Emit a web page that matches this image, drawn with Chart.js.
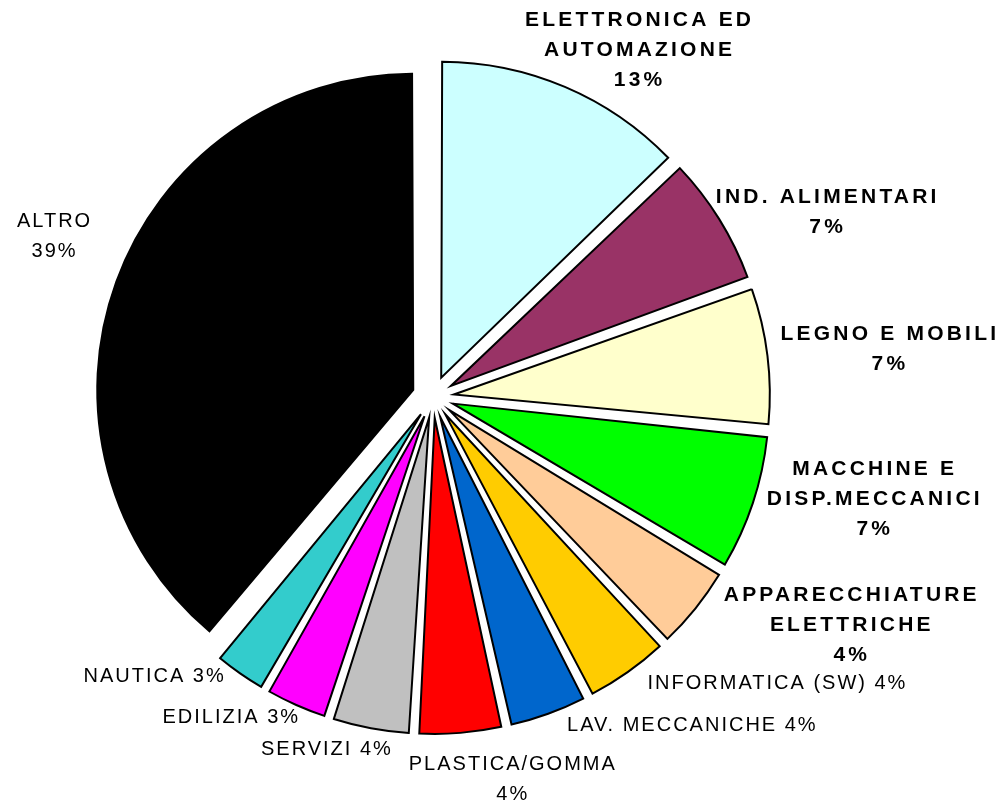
<!DOCTYPE html>
<html>
<head>
<meta charset="utf-8">
<script src="https://cdn.jsdelivr.net/npm/chart.js@4/dist/chart.umd.min.js"></script>
<style>
  html, body { margin: 0; padding: 0; background: #fff; }
  #pie { display: block; }
</style>
</head>
<body>
<canvas id="pie" width="1001" height="802"></canvas>
<script>
// Sectors (clockwise from 12 o'clock) and their share in percent
const categories = [
    ['ELETTRONICA ED', 'AUTOMAZIONE'],
    ['IND. ALIMENTARI'],
    ['LEGNO E MOBILI'],
    ['MACCHINE E', 'DISP.MECCANICI'],
    ['APPARECCHIATURE', 'ELETTRICHE'],
    'INFORMATICA (SW)',
    'LAV. MECCANICHE',
    ['PLASTICA/GOMMA'],
    'SERVIZI',
    'EDILIZIA',
    'NAUTICA',
    ['ALTRO']
];
const shares = [12.8, 6.7, 7.1, 7.0, 4.4, 4.4, 4.1, 4.4, 4.1, 3.3, 2.8, 38.9];

const sliceColors = [
    '#CCFFFF', '#993366', '#FFFFCC', '#00FF00', '#FFCC99', '#FFCC00',
    '#0066CC', '#FF0000', '#C0C0C0', '#FF00FF', '#33CCCC', '#000000'
];

// label styling: bold or not, and small nudges off the automatic spot
const boldLabel = [true, true, true, true, true, false, false, false, false, false, false, false];
const labelNudge = [
    [26, 14], [5, 14], [4, -2], [10, -21], [49, -18], [69, -9],
    [98, -12], [43, 7], [-30, -3], [-33, -10], [-39, -17], [-17, -32]
];

const EXPLODE = 84; // chart.js divides this by 4 -> ~21px

// chart.js grows the radius of exploded arcs, undo that so all slices are equal
const equalRadius = {
    id: 'equalRadius',
    afterDatasetUpdate(chart, args) {
        const shift = (chart.data.datasets[args.index].offset || 0) / 4;
        args.meta.data.forEach(arc => {
            const fix = 1 - Math.sin(Math.min(Math.PI, arc.circumference));
            arc.outerRadius -= shift * fix;
        });
    }
};

const sliceLabels = {
    id: 'sliceLabels',
    afterDatasetsDraw(chart) {
        const ctx = chart.ctx;
        const meta = chart.getDatasetMeta(0);
        const radius = meta.controller.outerRadius;
        const shift = EXPLODE / 4;
        const lineH = 30;

        meta.data.forEach((arc, i) => {
            const bold = boldLabel[i];
            const pct = Math.round(shares[i]) + '%';
            const name = categories[i];
            const lines = Array.isArray(name) ? name.concat([pct]) : [name + ' ' + pct];

            ctx.save();
            ctx.font = bold ? 'bold 21px "Liberation Sans", Arial, sans-serif'
                            : '20px "Liberation Sans", Arial, sans-serif';
            ctx.letterSpacing = bold ? '3.2px' : '2px';
            ctx.fillStyle = '#000';
            ctx.textAlign = 'center';
            ctx.textBaseline = 'middle';

            const w = Math.max(...lines.map(l => ctx.measureText(l).width));
            const h = lines.length * lineH;
            const mid = (arc.startAngle + arc.endAngle) / 2;
            const dx = Math.cos(mid), dy = Math.sin(mid);
            const r0 = radius + shift + 10;
            const cx = arc.x + dx * r0 + dx * w / 2 + labelNudge[i][0];
            const cy = arc.y + dy * r0 + dy * h / 2 + labelNudge[i][1];

            lines.forEach((l, j) => {
                ctx.fillText(l, cx, cy + (j - (lines.length - 1) / 2) * lineH);
            });
            ctx.restore();
        });
    }
};

const ctx = document.getElementById('pie').getContext('2d');

new Chart(ctx, {
    type: 'pie',
    data: {
        labels: categories,
        datasets: [{
            data: shares,
            backgroundColor: sliceColors,
            borderColor: '#000',
            borderWidth: 2,
            borderJoinStyle: 'miter',
            offset: EXPLODE
        }]
    },
    options: {
        responsive: false,
        animation: false,
        events: [],
        radius: 316,
        layout: {
            padding: { left: 0, right: 135, top: 0, bottom: 8 }
        },
        plugins: {
            legend: { display: false },
            tooltip: { enabled: false }
        }
    },
    plugins: [equalRadius, sliceLabels]
});
</script>
</body>
</html>
